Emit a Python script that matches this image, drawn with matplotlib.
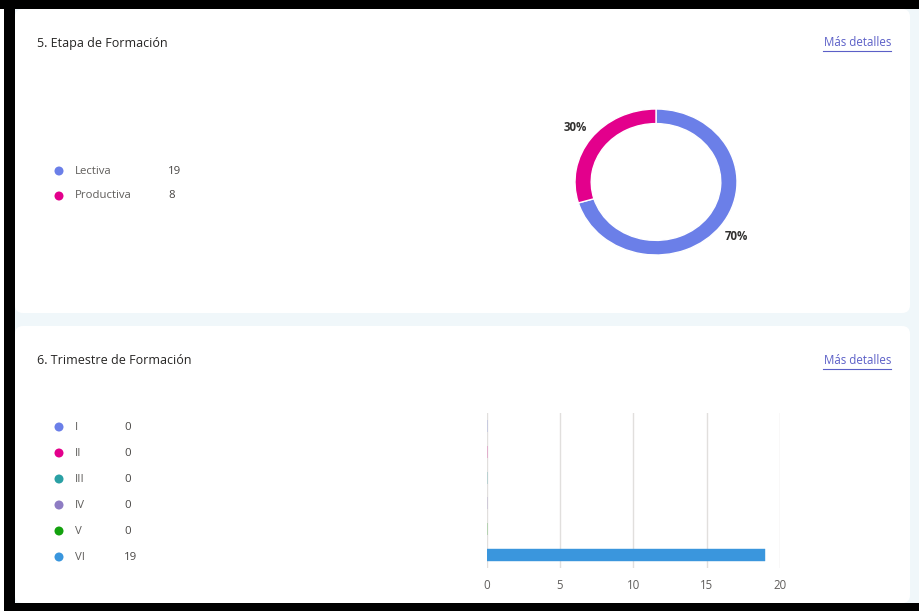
import matplotlib
matplotlib.use('Agg')
import matplotlib.pyplot as plt
import matplotlib.patches as patches
import numpy as np

plt.rcParams['font.family'] = ['Open Sans', 'DejaVu Sans']

# data
etapa_title = '5. Etapa de Formación'
etapa_labels = ['Lectiva', 'Productiva']
etapa_values = [19, 8]
etapa_colors = ['#6b7fe8', '#e3008c']

trim_title = '6. Trimestre de Formación'
trim_labels = ['I', 'II', 'III', 'IV', 'V', 'VI']
trim_values = [0, 0, 0, 0, 0, 19]
trim_colors = ['#6b7fe8', '#e3008c', '#2aa0a4', '#8e7cc3', '#13a10e', '#3a96dd']
trim_ticks = [0, 5, 10, 15, 20]

link_text = 'Más detalles'

W, H = 919, 611
fig = plt.figure(figsize=(W / 100, H / 100), dpi=100)
fig.patch.set_facecolor('white')


def px_axes(x0, y0, x1, y1, **kw):
    # axes from pixel box (top-left origin)
    return fig.add_axes([x0 / W, 1 - y1 / H, (x1 - x0) / W, (y1 - y0) / H], **kw)


# background layer in pixel coordinates
bg = fig.add_axes([0, 0, 1, 1], zorder=0)
bg.set_xlim(0, W)
bg.set_ylim(H, 0)
bg.axis('off')

bg.add_patch(patches.Rectangle((0, 0), W, H, color='#f0f7fa', lw=0))
for top, bottom in [(9, 313), (326, 603)]:
    bg.add_patch(patches.FancyBboxPatch((15, top), 895, bottom - top,
                                        boxstyle='round,pad=0,rounding_size=8',
                                        fc='white', ec='none'))
# black frame of the screenshot
bg.add_patch(patches.Rectangle((0, 0), 4, H, color='white', lw=0))
bg.add_patch(patches.Rectangle((0, 0), W, 9, color='black', lw=0))
bg.add_patch(patches.Rectangle((4, 0), 11, H, color='black', lw=0))
bg.add_patch(patches.Rectangle((4, 603), W, 8, color='black', lw=0))

title_color = '#252423'
label_color = '#605e5c'
value_color = '#484644'
link_color = '#5b5fc7'

for ty, title in [(43, etapa_title), (361, trim_title)]:
    bg.text(37, ty, title, fontsize=9, color=title_color, va='center', ha='left')
    bg.text(891, ty, link_text, fontsize=8.3, color=link_color, va='center', ha='right')
    bg.plot([823, 891], [ty + 8, ty + 8], color=link_color, lw=0.8)

# legend, first card
for i, (lab, val, col) in enumerate(zip(etapa_labels, etapa_values, etapa_colors)):
    y = 171 + i * 25
    bg.add_patch(patches.Ellipse((59, y), 9, 9, color=col, lw=0))
    bg.text(75, y, lab, fontsize=8.2, color=label_color, va='center')
    bg.text(168, y, str(val), fontsize=8.2, color=value_color, va='center')

# legend, second card
for i, (lab, val, col) in enumerate(zip(trim_labels, trim_values, trim_colors)):
    y = 427 + i * 26
    bg.add_patch(patches.Ellipse((59, y), 9, 9, color=col, lw=0))
    bg.text(75, y, lab, fontsize=8.2, color=label_color, va='center')
    bg.text(124, y, str(val), fontsize=8.2, color=value_color, va='center')

# donut
ax1 = px_axes(575, 109, 737, 255, zorder=2)
wedges, texts, autotexts = ax1.pie(etapa_values, colors=etapa_colors, startangle=90,
                                   counterclock=False, radius=1,
                                   autopct='%.0f%%', pctdistance=1.24,
                                   wedgeprops=dict(width=0.2, edgecolor='white', linewidth=1))
for t in autotexts:
    t.set_fontsize(8.3)
    t.set_fontweight('bold')
    t.set_color('#323130')
ax1.set_aspect('auto')
ax1.set_xlim(-1, 1)
ax1.set_ylim(-1, 1)
ax1.patch.set_alpha(0)

# horizontal bars
ax2 = px_axes(486.7, 413, 780, 568, zorder=2)
ypos = np.arange(len(trim_labels))
ax2.barh(ypos, trim_values, height=0.46, color=trim_colors, edgecolor=trim_colors,
         linewidth=0.3, zorder=3)
ax2.set_xlim(0, 20)
ax2.set_ylim(len(trim_labels) - 0.5, -0.5)
ax2.set_xticks(trim_ticks)
ax2.set_yticks([])
ax2.grid(axis='x', color='#e1dfdd', lw=1)
ax2.set_axisbelow(True)
for s in ax2.spines.values():
    s.set_visible(False)
ax2.tick_params(axis='x', length=0, pad=8, labelsize=8.3, labelcolor='#605e5c')
ax2.patch.set_alpha(0)

fig.savefig('out.png', dpi=100)
